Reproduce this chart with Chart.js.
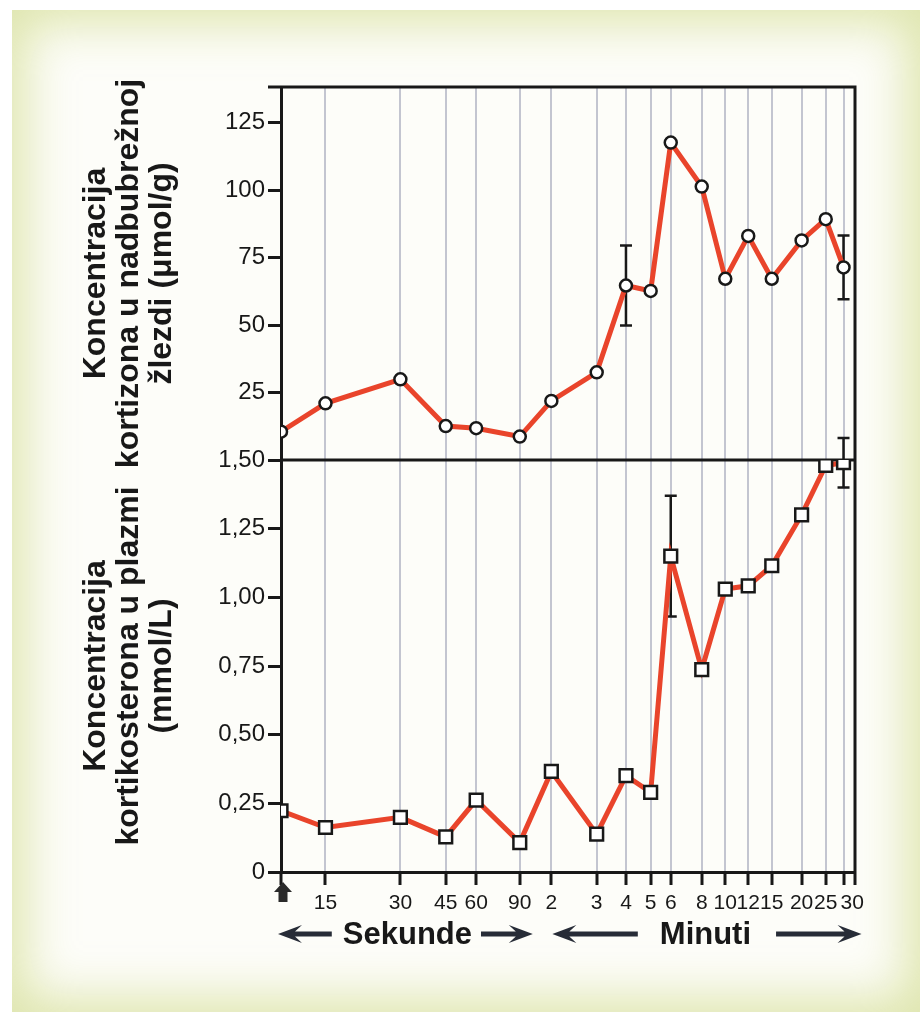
<!DOCTYPE html>
<html>
<head>
<meta charset="utf-8">
<title>Kortizon i kortikosteron</title>
<script src="https://cdn.jsdelivr.net/npm/chart.js@4.4.1/dist/chart.umd.min.js"></script>
<style>
    html, body { margin: 0; padding: 0; background: #fff; }
    #page { position: relative; width: 920px; height: 1012px; overflow: hidden; background: #fff; }
    #scan {
        position: absolute; left: 12px; top: 10px; right: 0; bottom: 0;
        background: #fdfdf9;
        box-shadow: inset 0 0 48px 14px rgba(212, 221, 148, 0.75);
    }
    #hormoneChart { position: absolute; left: 0; top: 0; }
</style>
</head>
<body>
<div id="page">
    <div id="scan"></div>
    <canvas id="hormoneChart" width="920" height="1012"></canvas>
</div>
<script>
// sampling times (first one is the stimulus, shown as an arrow);
// the last label is nudged right with spaces, as in the printed figure
const timeLabels = ['', '15', '30', '45', '60', '90', '2', '3', '4', '5', '6', '8', '10', '12', '15', '20', '25', '   30'];
// place of each sampling time on the compressed time axis (0 = start, 100 = right frame)
const timeAxisPos = [0, 7.75, 20.8, 28.7, 34.0, 41.6, 47.1, 55.0, 60.1, 64.4, 67.9, 73.3, 77.4, 81.4, 85.5, 90.7, 94.9, 98.0];

// upper panel: cortisone in adrenal gland (umol/g)
const cortisone = [10.5, 21.0, 29.9, 12.6, 11.8, 8.7, 21.9, 32.5, 64.7, 62.7, 117.7, 101.4, 67.2, 83.1, 67.2, 81.4, 89.3, 71.4];
const cortisoneErr = [null, null, null, null, null, null, null, null, 14.8, null, null, null, null, null, null, null, null, 11.8];
const cortisoneTicks = [25, 50, 75, 100, 125];
const cortisoneTickLabels = ['25', '50', '75', '100', '125'];

// lower panel: corticosterone in plasma (mmol/L)
const corticosterone = [0.223, 0.162, 0.199, 0.128, 0.262, 0.107, 0.366, 0.138, 0.351, 0.290, 1.15, 0.737, 1.030, 1.042, 1.115, 1.300, 1.480, 1.490];
const corticosteroneErr = [null, null, null, null, null, null, null, null, null, null, 0.22, null, null, null, null, null, null, 0.09];
const corticosteroneTicks = [0, 0.25, 0.5, 0.75, 1, 1.25, 1.5];
const corticosteroneTickLabels = ['0', '0,25', '0,50', '0,75', '1,00', '1,25', '1,50'];

const ink = '#181818';
const lineRed = '#e9442b';
const gridColor = '#c3c5d0';
const fontFamily = '"Liberation Sans", Arial, Helvetica, sans-serif';

// black frame round both panels and the divider between them
const framePlugin = {
    id: 'frame',
    beforeDatasetsDraw(chart) {
        const {ctx, chartArea} = chart;
        const mid = chart.scales.yBot.top;
        ctx.save();
        ctx.strokeStyle = ink;
        ctx.lineWidth = 3;
        ctx.beginPath();
        ctx.moveTo(chartArea.left - 13, chartArea.top);
        ctx.lineTo(chartArea.right, chartArea.top);
        ctx.lineTo(chartArea.right, chartArea.bottom + 13);
        ctx.moveTo(chartArea.left, mid);
        ctx.lineTo(chartArea.right, mid);
        ctx.stroke();
        ctx.restore();
    }
};

const errorBarPlugin = {
    id: 'errorBars',
    beforeDatasetsDraw(chart) {
        const ctx = chart.ctx;
        const xs = chart.scales.x;
        const sets = [[cortisone, cortisoneErr, 'yTop'], [corticosterone, corticosteroneErr, 'yBot']];
        ctx.save();
        ctx.strokeStyle = ink;
        ctx.lineWidth = 2.5;
        sets.forEach(([vals, errs, id]) => {
            const ys = chart.scales[id];
            errs.forEach((e, i) => {
                if (e == null) return;
                const px = xs.getPixelForValue(timeAxisPos[i]);
                const hi = ys.getPixelForValue(vals[i] + e);
                const lo = ys.getPixelForValue(vals[i] - e);
                ctx.beginPath();
                ctx.moveTo(px, hi); ctx.lineTo(px, lo);
                ctx.moveTo(px - 6, hi); ctx.lineTo(px + 6, hi);
                ctx.moveTo(px - 6, lo); ctx.lineTo(px + 6, lo);
                ctx.stroke();
            });
        });
        ctx.restore();
    }
};

function drawArrow(ctx, tip, tail, y) {
    const d = tip > tail ? 1 : -1;
    const hl = 24, hh = 9, st = 5;
    ctx.beginPath();
    ctx.moveTo(tip, y);
    ctx.lineTo(tip - d * hl, y - hh);
    ctx.lineTo(tip - d * (hl - 7), y - st / 2);
    ctx.lineTo(tail, y - st / 2);
    ctx.lineTo(tail, y + st / 2);
    ctx.lineTo(tip - d * (hl - 7), y + st / 2);
    ctx.lineTo(tip - d * hl, y + hh);
    ctx.closePath();
    ctx.fill();
}

// stimulus arrow and the "Sekunde" / "Minuti" ranges under the time axis
const timeRangePlugin = {
    id: 'timeRanges',
    afterDraw(chart) {
        const ctx = chart.ctx;
        const xs = chart.scales.x;
        const base = chart.chartArea.bottom;
        const p = i => xs.getPixelForValue(timeAxisPos[i]);

        ctx.save();
        ctx.fillStyle = '#2a2a2a';
        const ax = p(0) + 2;
        ctx.beginPath();
        ctx.moveTo(ax, base + 10);
        ctx.lineTo(ax + 9, base + 20);
        ctx.lineTo(ax + 4.5, base + 20);
        ctx.lineTo(ax + 4.5, base + 30);
        ctx.lineTo(ax - 4.5, base + 30);
        ctx.lineTo(ax - 4.5, base + 20);
        ctx.lineTo(ax - 9, base + 20);
        ctx.closePath();
        ctx.fill();

        const y = base + 62;
        ctx.font = 'bold 31px ' + fontFamily;
        ctx.textAlign = 'center';
        ctx.textBaseline = 'middle';

        const sekX = (p(0) + p(5)) / 2 + 7;
        const sekW = ctx.measureText('Sekunde').width;
        ctx.fillStyle = ink;
        ctx.fillText('Sekunde', sekX, y + 1);
        ctx.fillStyle = '#272c37';
        drawArrow(ctx, p(0) - 3, sekX - sekW / 2 - 11, y);
        drawArrow(ctx, p(5) + 13, sekX + sekW / 2 + 9, y);

        const minX = (p(6) + p(17)) / 2 + 8;
        const minW = ctx.measureText('Minuti').width;
        ctx.fillStyle = ink;
        ctx.fillText('Minuti', minX, y + 1);
        ctx.fillStyle = '#272c37';
        drawArrow(ctx, p(6) + 1, minX - minW / 2 - 22, y);
        drawArrow(ctx, p(17) + 18, minX + minW / 2 + 25, y);
        ctx.restore();
    }
};

const ctx = document.getElementById('hormoneChart');
new Chart(ctx, {
    type: 'line',
    data: {
        datasets: [{
            label: 'Kortizon',
            data: timeAxisPos.map((x, i) => ({x: x, y: cortisone[i]})),
            yAxisID: 'yTop',
            borderColor: lineRed,
            borderWidth: 5,
            tension: 0,
            pointStyle: 'circle',
            pointRadius: 6,
            pointBorderWidth: 2.5,
            pointBorderColor: ink,
            pointBackgroundColor: '#ffffff'
        }, {
            label: 'Kortikosteron',
            data: timeAxisPos.map((x, i) => ({x: x, y: corticosterone[i]})),
            yAxisID: 'yBot',
            borderColor: lineRed,
            borderWidth: 5,
            tension: 0,
            pointStyle: 'rect',
            pointRadius: 9,
            pointBorderWidth: 2.5,
            pointBorderColor: ink,
            pointBackgroundColor: '#ffffff'
        }]
    },
    options: {
        responsive: false,
        animation: false,
        layout: { padding: { top: 87, right: 65, bottom: 0, left: 40 } },
        plugins: {
            legend: { display: false },
            tooltip: { enabled: false }
        },
        scales: {
            x: {
                type: 'linear',
                min: 0,
                max: 100,
                afterBuildTicks: s => { s.ticks = timeAxisPos.map(v => ({value: v})); },
                afterFit: s => { s.height = 140; },
                ticks: {
                    autoSkip: false,
                    maxRotation: 0,
                    padding: 6,
                    color: ink,
                    font: { family: fontFamily, size: 21 },
                    callback: (v, i) => timeLabels[i]
                },
                grid: {
                    color: c => c.index === 0 ? 'rgba(0,0,0,0)' : gridColor,
                    lineWidth: 2,
                    tickLength: 13,
                    tickWidth: 3,
                    tickColor: ink
                },
                border: { display: true, color: ink, width: 3 }
            },
            yTop: {
                type: 'linear',
                position: 'left',
                stack: 'panels',
                stackWeight: 373,
                weight: 2,
                min: 0,
                max: 138.3,
                afterBuildTicks: s => { s.ticks = cortisoneTicks.map(v => ({value: v})); },
                afterFit: s => { s.width = 241; },
                ticks: {
                    padding: 3,
                    color: ink,
                    font: { family: fontFamily, size: 24 },
                    callback: (v, i) => cortisoneTickLabels[i]
                },
                grid: { drawOnChartArea: false, tickLength: 13, tickWidth: 3, tickColor: ink },
                border: { display: true, color: ink, width: 3 },
                title: {
                    display: true,
                    text: ['Koncentracija', 'kortizona u nadbubrežnoj', 'žlezdi (μmol/g)'],
                    color: ink,
                    font: { family: fontFamily, size: 32, weight: 'bold', lineHeight: 1.03 },
                    padding: { top: 40, bottom: 0 }
                }
            },
            yBot: {
                type: 'linear',
                position: 'left',
                stack: 'panels',
                stackWeight: 412,
                weight: 1,
                min: 0,
                max: 1.5,
                afterBuildTicks: s => { s.ticks = corticosteroneTicks.map(v => ({value: v})); },
                afterFit: s => { s.width = 241; },
                ticks: {
                    padding: 3,
                    color: ink,
                    font: { family: fontFamily, size: 24 },
                    callback: (v, i) => corticosteroneTickLabels[i]
                },
                grid: { drawOnChartArea: false, tickLength: 13, tickWidth: 3, tickColor: ink },
                border: { display: true, color: ink, width: 3 },
                title: {
                    display: true,
                    text: ['Koncentracija', 'kortikosterona u plazmi', '(mmol/L)'],
                    color: ink,
                    font: { family: fontFamily, size: 32, weight: 'bold', lineHeight: 1.03 },
                    padding: { top: 40, bottom: 0 }
                }
            }
        }
    },
    plugins: [framePlugin, errorBarPlugin, timeRangePlugin]
});
</script>
</body>
</html>
